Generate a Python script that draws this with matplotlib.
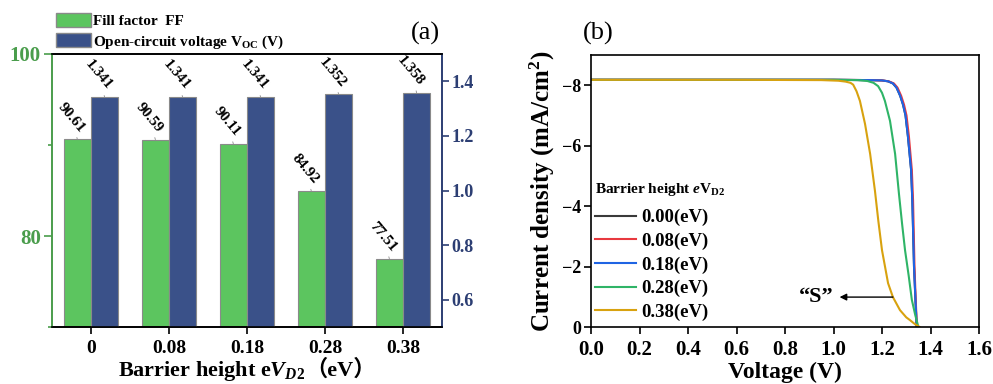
import numpy as np
import matplotlib
matplotlib.use("Agg")
import matplotlib.pyplot as plt
from matplotlib.patches import Patch

plt.rcParams['font.family'] = ['Liberation Serif', 'Noto Sans CJK SC']
plt.rcParams['font.weight'] = 'bold'
plt.rcParams['axes.labelweight'] = 'bold'
plt.rcParams['mathtext.fontset'] = 'custom'
plt.rcParams['mathtext.rm'] = 'Liberation Serif:bold'
plt.rcParams['mathtext.it'] = 'Liberation Serif:italic:bold'
plt.rcParams['mathtext.bf'] = 'Liberation Serif:bold'

# (a) datos de barras
barrier = ['0', '0.08', '0.18', '0.28', '0.38']
ff = [90.61, 90.59, 90.11, 84.92, 77.51]
voc = [1.341, 1.341, 1.341, 1.352, 1.358]

# (b) curvas J-V
v_low = [0, 0.6, 1.0, 1.15, 1.20, 1.225, 1.245, 1.26, 1.275, 1.287, 1.297, 1.307, 1.320, 1.325, 1.332, 1.338, 1.343]
j_low = [-8.18, -8.18, -8.18, -8.17, -8.16, -8.13, -8.06, -7.92, -7.65, -7.35, -7.0, -6.3, -5.2, -4.2, -2.0, -0.9, 0]
v_008 = [0, 0.6, 1.0, 1.15, 1.20, 1.228, 1.249, 1.264, 1.279, 1.291, 1.301, 1.311, 1.323, 1.328, 1.334, 1.339, 1.344]
j_008 = [-8.18, -8.18, -8.18, -8.17, -8.16, -8.13, -8.06, -7.92, -7.65, -7.35, -7.0, -6.3, -5.2, -4.2, -2.0, -0.9, 0]
v_028 = [0, 0.6, 1.0, 1.10, 1.14, 1.165, 1.184, 1.20, 1.212, 1.233, 1.254, 1.270, 1.283, 1.295, 1.31, 1.323, 1.337, 1.350]
j_028 = [-8.18, -8.18, -8.18, -8.17, -8.14, -8.08, -7.97, -7.75, -7.48, -6.82, -5.73, -4.4, -3.4, -2.54, -1.7, -0.9, -0.4, 0]
v_038 = [0, 0.6, 0.95, 1.02, 1.05, 1.07, 1.081, 1.095, 1.109, 1.130, 1.151, 1.171, 1.185, 1.200, 1.225, 1.245, 1.274, 1.30, 1.315, 1.335, 1.355]
j_038 = [-8.18, -8.18, -8.17, -8.15, -8.12, -8.08, -8.02, -7.8, -7.48, -6.72, -5.73, -4.5, -3.5, -2.54, -1.45, -0.99, -0.56, -0.32, -0.23, -0.1, 0]
curve_labels = ['0.00(eV)', '0.08(eV)', '0.18(eV)', '0.28(eV)', '0.38(eV)']

green = '#5cc55f'
navy = '#3a5189'
green_ax = '#4a9d4c'
navy_ax = '#2c3e73'

fig = plt.figure(figsize=(9.93, 3.84), dpi=100)

# ---------- (a) ----------
ax1 = fig.add_axes([0.0524, 0.1484, 0.3927, 0.711])
ax2 = ax1.twinx()
x = np.arange(len(barrier))
w = 0.35
b1 = ax1.bar(x - w / 2, ff, w, color=green, edgecolor='#8a8a8a', lw=0.8)
b2 = ax2.bar(x + w / 2, voc, w, color=navy, edgecolor='#8a8a8a', lw=0.8)
ax1.set_xlim(-0.5, 4.5)
ax1.set_ylim(70, 100)
ax2.set_ylim(0.5, 1.5)
ax1.set_yticks([80, 100])
ax1.set_yticks([70, 90], minor=True)
ax2.set_yticks([0.6, 0.8, 1.0, 1.2, 1.4])
ax1.set_xticks(x)
ax1.set_xticklabels(barrier, fontsize=14)
ax1.tick_params(axis='y', colors=green_ax, labelsize=15, length=6, width=1.2, pad=2)
ax1.tick_params(axis='y', which='minor', colors=green_ax, length=3, width=1.2)
ax1.tick_params(axis='x', length=5, width=1.2, pad=4)
ax2.tick_params(axis='y', colors=navy_ax, labelsize=13, length=5, width=1.2, pad=2)
for a in (ax1, ax2):
    a.spines['left'].set_color(green_ax)
    a.spines['right'].set_color(navy_ax)
    for s in a.spines.values():
        s.set_linewidth(1.2)

for r, v in zip(b1, ff):
    ax1.annotate('%.2f' % v, xy=(r.get_x() + r.get_width() / 2, v),
                 xytext=(-6, 22), textcoords='offset pixels', rotation=-50,
                 ha='center', va='center', fontsize=11,
                 arrowprops=dict(arrowstyle='-', color='0.55', lw=0.6, shrinkA=9, shrinkB=4))
for r, v in zip(b2, voc):
    ax2.annotate('%.3f' % v, xy=(r.get_x() + r.get_width() / 2, v),
                 xytext=(-6, 22), textcoords='offset pixels', rotation=-50,
                 ha='center', va='center', fontsize=11,
                 arrowprops=dict(arrowstyle='-', color='0.55', lw=0.6, shrinkA=9, shrinkB=4))

handles = [Patch(facecolor=green, edgecolor='#8a8a8a'), Patch(facecolor=navy, edgecolor='#8a8a8a')]
ax1.legend(handles, ['Fill factor  FF', 'Open-circuit voltage V$_{\\mathrm{OC}}$ (V)'],
           loc='lower left', bbox_to_anchor=(-0.005, 0.99), frameon=False,
           fontsize=11, handlelength=2.3, handleheight=1.0, handletextpad=0.1,
           borderaxespad=0, labelspacing=0.35)
fig.text(0.428, 0.912, '(a)', fontsize=19, fontweight='normal', ha='center', va='center')

# etiqueta x de (a): parte mathtext + parentesis de ancho completo
parts = [fig.text(0, 0.022, 'Barrier height e$V_{D2}$', fontsize=16, va='baseline'),
         fig.text(0, 0.022, '（eV）', fontsize=16, va='baseline')]
fig.canvas.draw()
rend = fig.canvas.get_renderer()
widths = [p.get_window_extent(rend).width for p in parts]
xpos = (0.0524 + 0.3927 / 2) * fig.bbox.width - sum(widths) / 2
for p, wd in zip(parts, widths):
    p.set_x(xpos / fig.bbox.width)
    xpos += wd

# ---------- (b) ----------
ax3 = fig.add_axes([0.5952, 0.1484, 0.3907, 0.7083])
ax3.plot(v_low, j_low, color='#3a3a3a', lw=1.5, label=curve_labels[0])
ax3.plot(v_008, j_008, color='#e8393f', lw=1.5, label=curve_labels[1])
ax3.plot(v_low, j_low, color='#1f64e3', lw=1.5, label=curve_labels[2])
ax3.plot(v_028, j_028, color='#2fb467', lw=1.5, label=curve_labels[3])
ax3.plot(v_038, j_038, color='#d8a20f', lw=1.5, label=curve_labels[4])
ax3.set_xlim(0, 1.6)
ax3.set_ylim(0, -9)
ax3.set_xticks(np.arange(0, 1.61, 0.2))
ax3.set_yticks([0, -2, -4, -6, -8])
ax3.tick_params(axis='x', labelsize=15, length=5, width=1.2, pad=4)
ax3.tick_params(axis='y', labelsize=13, length=5, width=1.2, pad=2)
for s in ax3.spines.values():
    s.set_linewidth(1.2)
ax3.set_xlabel('Voltage (V)', fontsize=17, labelpad=2)
ax3.set_ylabel('Current density (mA/cm$^2$)', fontsize=18, labelpad=4)

ax3.annotate('', xy=(1.025, -0.99), xytext=(1.245, -0.99),
             arrowprops=dict(arrowstyle='-|>', color='black', lw=1.0, mutation_scale=10,
                             shrinkA=0, shrinkB=0))
ax3.text(1.0, -0.99, '“S”', fontsize=16, ha='right', va='center')

ax3.legend(loc='center left', bbox_to_anchor=(0.01, 0.228), frameon=False,
           fontsize=13.5, handlelength=2.2, handletextpad=0.25, labelspacing=0.34,
           borderaxespad=0, borderpad=0)
ax3.text(0.01, 0.504, 'Barrier height $e$V$_{\\mathrm{D2}}$', transform=ax3.transAxes,
         fontsize=11, va='center', ha='left')
fig.text(0.602, 0.912, '(b)', fontsize=19, fontweight='normal', ha='center', va='center')

fig.savefig('out.png', dpi=100)
